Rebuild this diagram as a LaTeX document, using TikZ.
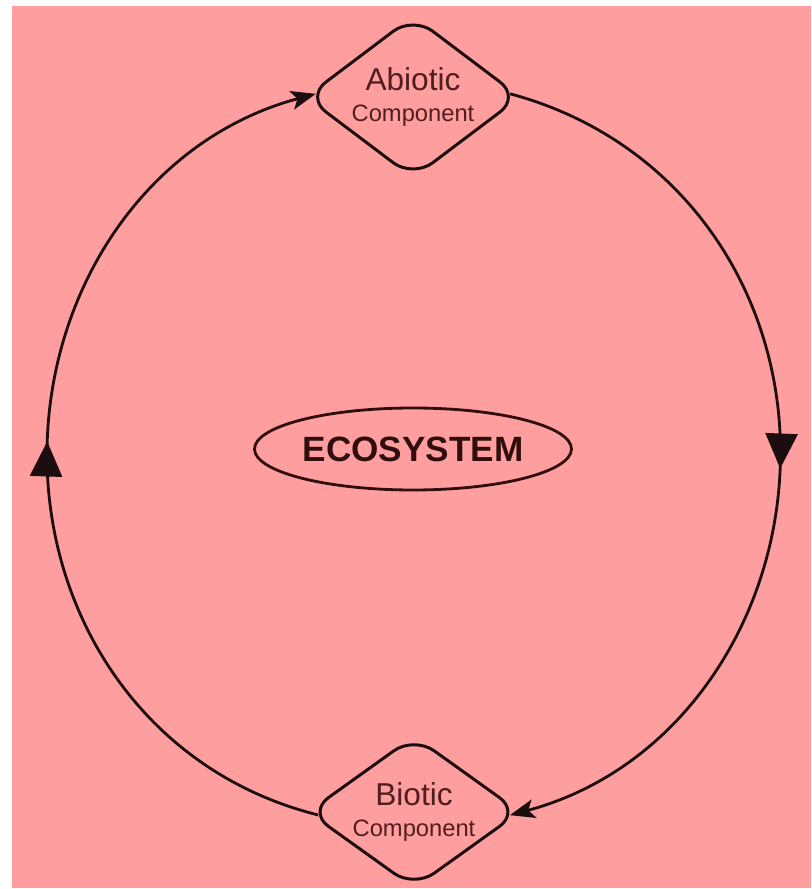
\documentclass[tikz,border=0pt]{standalone}
\usepackage{fontspec}
\setsansfont{Liberation Sans}
\usepackage{tikz}
\usetikzlibrary{arrows.meta,shapes.geometric,decorations.markings}

\definecolor{bgpink}{RGB}{255,158,158}
\definecolor{linedark}{RGB}{28,14,14}
\definecolor{txtdark}{RGB}{80,30,30}
\definecolor{ecodark}{RGB}{48,14,14}

\tikzset{
	compbox/.style={draw=linedark, line width=1.7pt, diamond, rounded corners=14pt,
		inner xsep=-0.5cm, inner ysep=-0.3cm, align=center, text=txtdark,
		font=\sffamily\fontsize{18}{20}\selectfont},
	ecobox/.style={draw=ecodark, line width=1.6pt, ellipse, inner sep=0pt,
		minimum width=6.34cm, minimum height=1.64cm, text=ecodark,
		font=\sffamily\bfseries\fontsize{20}{24}\selectfont},
	cycle/.style={draw=linedark, line width=1.6pt, looseness=0.95,
		shorten <=-7pt, shorten >=-7pt,
		-{Stealth[length=5mm,width=3.8mm,inset=1.2mm]},
		decoration={markings, mark=at position 0.515 with
			{\arrow{Triangle[length=7mm,width=6.4mm]}}},
		postaction={decorate}}
}

\newcommand{\compname}[1]{#1\\[-2pt]{\fontsize{13.5}{15}\selectfont Component}}

\begin{document}
\begin{tikzpicture}
	\useasboundingbox (-8.26,-8.68) rectangle (7.96,9.10);
	\fill[bgpink] (-8.02,-8.66) rectangle (7.96,8.98);

	\node[compbox, minimum width=4.3cm, minimum height=3.25cm] (abiotic) at (0,7.16) {\compname{Abiotic}};
	\node[compbox, minimum width=4.25cm, minimum height=3.05cm] (biotic) at (0.02,-7.14) {\compname{Biotic}};
	\node[ecobox] (eco) at (0,0.12) {ECOSYSTEM};

	\coordinate (rightpt) at (7.35,0.05);
	\coordinate (leftpt) at (-7.32,0);

	% abiotic -> biotic -> abiotic
	\path[cycle] (abiotic.east) to[out=-15, in=90] (rightpt) to[out=-90, in=15] (biotic.east);
	\path[cycle] (biotic.west) to[out=166, in=-90] (leftpt) to[out=90, in=-165] (abiotic.west);
\end{tikzpicture}
\end{document}
